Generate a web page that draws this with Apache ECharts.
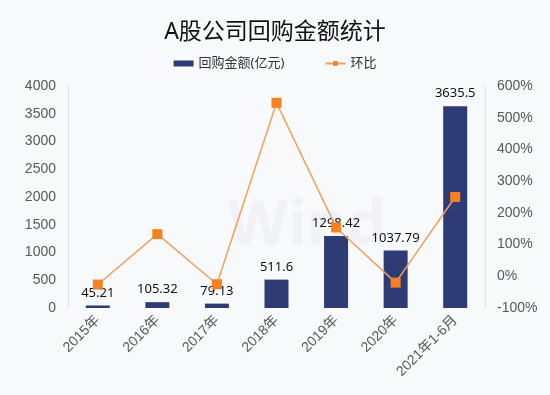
<!DOCTYPE html>
<html><head><meta charset="utf-8">
<script src="https://cdn.jsdelivr.net/npm/echarts@6/dist/echarts.min.js"></script>
<style>html,body{margin:0;padding:0;background:#f8f9fb;}#c{width:550px;height:395px;}</style>
</head><body><div id="c"></div>
<script>
var categories = ['2015年','2016年','2017年','2018年','2019年','2020年','2021年1-6月'];
var amounts = [45.21, 105.32, 79.13, 511.6, 1298.42, 1037.79, 3635.5];
var growth = [-26, 133, -25, 547, 154, -20, 250];
var leftTicks = [0, 4000, 500];
var rightTicks = [-100, 600, 100];

var font = '"Noto Sans", "Noto Sans CJK SC", sans-serif';
var axisFont = '"Liberation Sans", "Noto Sans CJK SC", sans-serif';
var chart = echarts.init(document.getElementById('c'));
chart.setOption({
  backgroundColor: '#f8f9fb',
  title: {text: 'A股公司回购金额统计', left: 'center', top: 16,
    textStyle: {fontSize: 23, fontWeight: 'normal', color: '#111', fontFamily: font}},
  legend: {top: 52, left: 'center', itemGap: 40, itemWidth: 20, itemHeight: 6,
    textStyle: {fontSize: 13, color: '#333', fontFamily: font},
    data: [{name: '回购金额(亿元)', icon: 'rect'}, {name: '环比'}]},
  graphic: [{type: 'text', left: 228, top: 196, silent: true, z: -1,
    style: {text: 'Wind', fontSize: 62, fontWeight: 'bold', fill: 'rgba(200,204,214,0.13)', fontFamily: font}}],
  grid: {left: 68, right: 65, top: 86, bottom: 87},
  xAxis: {type: 'category', data: categories,
    axisLine: {show: false}, axisTick: {show: false},
    axisLabel: {rotate: 45, interval: 0, fontSize: 14, color: '#595959', margin: 10, fontFamily: axisFont}},
  yAxis: [
    {type: 'value', min: leftTicks[0], max: leftTicks[1], interval: leftTicks[2],
      splitLine: {show: false},
      axisLine: {show: true, lineStyle: {color: '#e0e0e0'}}, axisTick: {show: false},
      axisLabel: {fontSize: 14, color: '#595959', margin: 12, fontFamily: axisFont,
        formatter: function (v) { return String(v); }}},
    {type: 'value', min: rightTicks[0], max: rightTicks[1], interval: rightTicks[2],
      splitLine: {show: false},
      axisLine: {show: true, lineStyle: {color: '#e0e0e0'}}, axisTick: {show: false},
      axisLabel: {fontSize: 14, color: '#595959', margin: 12, formatter: '{value}%', fontFamily: axisFont}}
  ],
  series: [
    {name: '回购金额(亿元)', type: 'bar', data: amounts, barWidth: 24,
      itemStyle: {color: '#2f3b74'},
      label: {show: true, position: 'top', fontSize: 13, color: '#111', distance: 6, fontFamily: font}},
    {name: '环比', type: 'line', yAxisIndex: 1, data: growth,
      symbol: 'rect', symbolSize: 10,
      lineStyle: {color: '#f0a060', width: 1.5},
      itemStyle: {color: '#f58220'}}
  ]
});
</script></body></html>
